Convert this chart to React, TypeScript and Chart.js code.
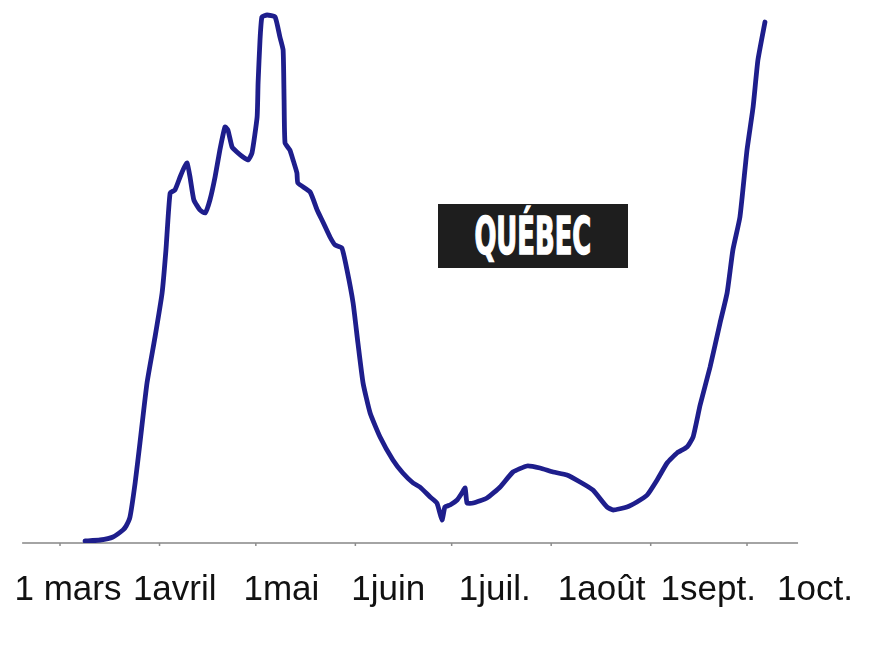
import React, { useEffect, useRef } from 'react';
import { Chart, registerables } from 'chart.js';

Chart.register(...registerables);

// Days since 1 March 2020
const dayOffsets = [
  7.8, 12.5, 16.5, 19.6, 20.6, 21.8, 23.4, 24.9, 27.1, 29.6,
  31.8, 33.0, 34.3, 35.8, 37.4, 38.6, 39.6, 40.5, 41.7, 43.6,
  45.2, 46.7, 48.3, 49.8, 51.4, 52.3, 53.6, 55.1, 57.0, 58.6,
  59.8, 61.4, 61.7, 62.3, 62.9, 64.5, 67.0, 68.5, 69.5, 69.8,
  70.1, 71.6, 72.6, 73.8, 74.1, 77.9, 80.1, 81.9, 84.1, 85.7,
  87.8, 89.4, 91.3, 92.8, 94.4, 96.6, 99.7, 103.7, 106.8, 110.0,
  112.1, 115.3, 117.4, 119.0, 119.9, 121.5, 123.7, 125.2, 126.2, 126.8,
  128.7, 133.0, 137.1, 141.1, 145.5, 149.5, 153.6, 157.9, 162.0, 166.0,
  170.4, 172.3, 176.6, 179.7, 182.9, 186.0, 189.1, 192.2, 195.3, 197.2,
  199.4, 202.5, 205.6, 207.8, 209.6, 211.8, 214.0, 215.9, 217.4, 219.6,
];

// Relative level of new cases (arbitrary units)
const caseLevel = [
  2, 3, 6, 13, 17, 26, 60, 100, 160, 206,
  250, 293, 350, 353, 366, 375, 380, 366, 343, 333,
  330, 343, 366, 393, 416, 413, 396, 391, 386, 383,
  390, 426, 460, 503, 526, 528, 526, 506, 493, 443,
  400, 393, 383, 370, 360, 351, 333, 321, 306, 298,
  295, 273, 240, 200, 160, 130, 106, 83, 70, 60,
  56, 46, 40, 23, 36, 38, 43, 50, 55, 40,
  40, 45, 56, 71, 77, 75, 71, 68, 61, 53,
  36, 33, 36, 41, 48, 63, 80, 90, 96, 106,
  138, 176, 220, 250, 293, 326, 393, 436, 483, 521,
];

const monthLabels = ['1 mars', '1avril', '1mai', '1juin', '1juil.', '1août', '1sept.', '1oct.'];
const monthStartDays = [0, 31, 61, 92, 122, 153, 184, 214];
const regionLabel = 'QUÉBEC';

const X_MIN = 2.49;
const X_MAX = 235.18;
const AXIS_START = -11.8;
const AXIS_END = 229.9;
const Y_MAX = 533;

const axisLinePlugin = {
  id: 'axisLine',
  beforeDatasetsDraw(chart: any) {
    const { ctx, chartArea, scales } = chart;
    const xs = scales.x;
    const y = chartArea.bottom;
    ctx.save();
    ctx.strokeStyle = '#a4a4a4';
    ctx.lineWidth = 2;
    ctx.beginPath();
    ctx.moveTo(xs.getPixelForValue(AXIS_START), y);
    ctx.lineTo(xs.getPixelForValue(AXIS_END), y);
    ctx.stroke();
    ctx.strokeStyle = '#8c8c8c';
    ctx.lineWidth = 1.5;
    for (const d of monthStartDays) {
      const px = xs.getPixelForValue(d);
      ctx.beginPath();
      ctx.moveTo(px, y);
      ctx.lineTo(px, y + 3);
      ctx.stroke();
    }
    ctx.restore();
  },
};

export default function App() {
  const canvasRef = useRef<HTMLCanvasElement | null>(null);
  const labelRef = useRef<HTMLSpanElement | null>(null);

  useEffect(() => {
    if (!canvasRef.current) return;
    const chart = new Chart(canvasRef.current, {
      type: 'line',
      data: {
        datasets: [
          {
            data: dayOffsets.map((d, i) => ({ x: d, y: caseLevel[i] })),
            borderColor: '#1e1e8c',
            borderWidth: 4.8,
            pointRadius: 0,
            tension: 0.15,
            borderJoinStyle: 'round',
            borderCapStyle: 'round',
            fill: false,
          },
        ],
      },
      options: {
        animation: false,
        responsive: false,
        layout: { padding: { left: 60, right: 49, top: 2, bottom: 0 } },
        plugins: { legend: { display: false }, tooltip: { enabled: false } },
        scales: {
          x: { type: 'linear', min: X_MIN, max: X_MAX, display: false },
          x2: {
            type: 'category',
            labels: monthLabels,
            position: 'bottom',
            offset: false,
            grid: {
              display: true,
              drawOnChartArea: false,
              drawTicks: true,
              tickLength: 26,
              color: 'rgba(0,0,0,0)',
            },
            border: { display: false },
            ticks: {
              autoSkip: false,
              maxRotation: 0,
              minRotation: 0,
              padding: 0,
              color: '#111111',
              font: { family: '"Liberation Sans", Arial, sans-serif', size: 35 },
            },
            afterFit(scale: any) {
              scale.height = 95;
            },
          },
          y: { type: 'linear', min: 0, max: Y_MAX, display: false },
        },
      },
      plugins: [axisLinePlugin],
    } as any);
    return () => chart.destroy();
  }, []);

  useEffect(() => {
    const el = labelRef.current;
    if (!el) return;
    const w = el.offsetWidth;
    if (w > 0) el.style.transform = `scaleX(${117 / w})`;
  }, []);

  return (
    <div style={{ position: 'relative', width: 856, height: 630 }}>
      <canvas ref={canvasRef} width={856} height={630} style={{ display: 'block' }} />
      <div
        style={{
          position: 'absolute',
          left: 430,
          top: 196,
          width: 190,
          height: 64,
          background: '#1e1e1e',
          display: 'flex',
          alignItems: 'center',
          justifyContent: 'center',
          overflow: 'hidden',
        }}
      >
        <span
          ref={labelRef}
          style={{
            display: 'inline-block',
            color: '#ffffff',
            fontFamily: '"DejaVu Sans Condensed", "DejaVu Sans", sans-serif',
            fontStretch: 'condensed',
            fontWeight: 'bold',
            fontSize: 52,
            lineHeight: 1,
            whiteSpace: 'nowrap',
            transformOrigin: 'center center',
            WebkitTextStroke: '1.5px #ffffff',
          }}
        >
          {regionLabel}
        </span>
      </div>
    </div>
  );
}
